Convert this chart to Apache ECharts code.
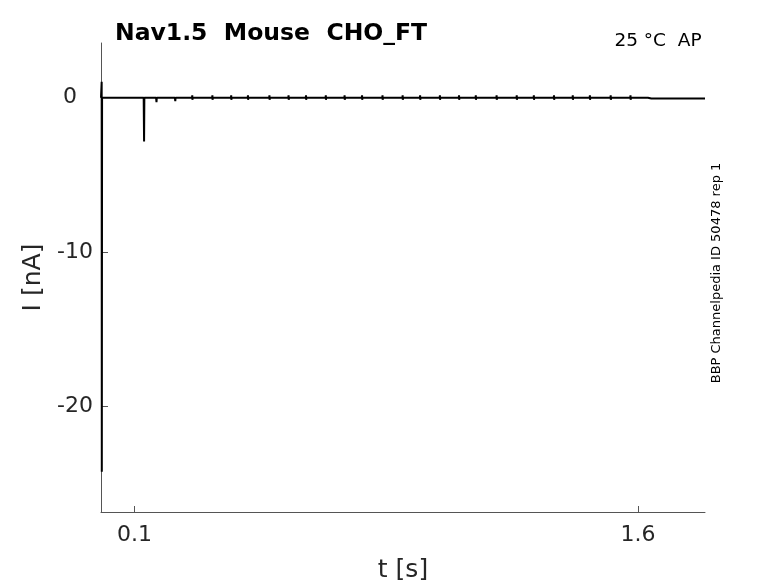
<!DOCTYPE html>
<html>
<head>
<meta charset="utf-8">
<script src="https://cdn.jsdelivr.net/npm/echarts@6/dist/echarts.min.js"></script>
<style>
html,body{margin:0;padding:0;background:#fff;}
#c{width:778px;height:583px;}
</style>
</head>
<body>
<div id="c"></div>
<script>
// ---- data ----
const titleText = 'Nav1.5  Mouse  CHO_FT';
const subText = '25 °C  AP';
const sideText = 'BBP Channelpedia ID 50478 rep 1';
const xName = 't [s]';
const yName = 'I [nA]';
const xTicks = [0.1, 1.6];
const yTicks = [-20, -10, 0];
const xRange = [0, 1.8];
const yRange = [-26.8, 3.5];

// spike events: time (s), upper excursion (nA), lower excursion (nA)
const spikeT    = [0.002, 0.128, 0.165, 0.221, 0.272, 0.332, 0.388, 0.438, 0.502, 0.559, 0.611, 0.670, 0.726, 0.778, 0.839, 0.899, 0.951, 1.010, 1.067, 1.117, 1.179, 1.239, 1.290, 1.350, 1.406, 1.457, 1.519, 1.578];
const spikeHigh = [1.0,  -0.05, 0.03, 0.03, 0.12, 0.12, 0.12, 0.12, 0.12, 0.12, 0.12, 0.12, 0.12, 0.12, 0.12, 0.12, 0.12, 0.12, 0.12, 0.12, 0.12, 0.12, 0.12, 0.12, 0.12, 0.12, 0.12, 0.12];
const spikeLow  = [-24.2, -2.86, -0.32, -0.26, -0.17, -0.17, -0.17, -0.17, -0.17, -0.17, -0.17, -0.17, -0.17, -0.17, -0.17, -0.17, -0.17, -0.17, -0.17, -0.17, -0.17, -0.17, -0.17, -0.17, -0.17, -0.17, -0.17, -0.17];
const baseline = -0.04;
// tail segment (after the stimulus train)
const tailT = [1.63, 1.64, 1.8];
const tailI = [-0.04, -0.09, -0.09];

// build the polyline for the library
const trace = [[0, baseline]];
for (let i = 0; i < spikeT.length; i++) {
  const t = spikeT[i];
  trace.push([t - 0.0008, baseline]);
  trace.push([t, spikeHigh[i]]);
  trace.push([t + 0.0004, spikeLow[i]]);
  trace.push([t + 0.0012, baseline]);
}
for (let i = 0; i < tailT.length; i++) trace.push([tailT[i], tailI[i]]);

const FONT = 'DejaVu Sans';
const AX = '#555555';
const TXT = '#262626';

const chart = echarts.init(document.getElementById('c'), null, {renderer: 'canvas'});
chart.setOption({
  animation: false,
  backgroundColor: '#ffffff',
  grid: {left: 101, right: 73, top: 43, bottom: 71, containLabel: false, outerBoundsMode: 'none'},
  xAxis: {
    type: 'value', min: xRange[0], max: xRange[1],
    name: xName, nameLocation: 'middle', nameGap: 46,
    nameTextStyle: {fontFamily: FONT, fontSize: 25, color: TXT},
    axisLine: {show: true, onZero: false, lineStyle: {color: AX, width: 1}},
    axisTick: {show: true, inside: true, length: 6, customValues: xTicks, lineStyle: {color: AX}},
    axisLabel: {show: true, customValues: xTicks, margin: 12, fontFamily: FONT, fontSize: 22, color: TXT,
      formatter: v => String(v)},
    splitLine: {show: false}
  },
  yAxis: {
    type: 'value', min: yRange[0], max: yRange[1],
    name: yName, nameLocation: 'middle', nameGap: 47, nameRotate: 90,
    nameTextStyle: {fontFamily: FONT, fontSize: 25, color: TXT},
    axisLine: {show: true, onZero: false, lineStyle: {color: AX, width: 1}},
    axisTick: {show: true, inside: true, length: 7, customValues: yTicks, lineStyle: {color: AX}},
    axisLabel: {show: true, customValues: yTicks, margin: 8, fontFamily: FONT, fontSize: 22, color: TXT,
      formatter: v => v === 0 ? '{z|0}' : String(v),
      rich: {z: {fontFamily: FONT, fontSize: 22, color: TXT, padding: [0, 16, 0, 0]}}},
    splitLine: {show: false}
  },
  series: [{
    type: 'line',
    data: trace,
    showSymbol: false,
    symbol: 'none',
    lineStyle: {color: '#000000', width: 2, join: 'bevel'},
    clip: false
  }],
  graphic: [
    {type: 'text', left: 115, top: 22,
      style: {text: titleText, fontFamily: FONT, fontWeight: 'bold', fontSize: 23.5, fill: '#000'}},
    {type: 'text', x: 658, y: 41,
      style: {text: subText, fontFamily: FONT, fontSize: 18.5, fill: '#000', align: 'center', verticalAlign: 'middle'}},
    {type: 'text', x: 717, y: 273, rotation: Math.PI / 2,
      style: {text: sideText, fontFamily: FONT, fontSize: 13, fill: '#000', align: 'center', verticalAlign: 'middle'}}
  ]
});
</script>
</body>
</html>
